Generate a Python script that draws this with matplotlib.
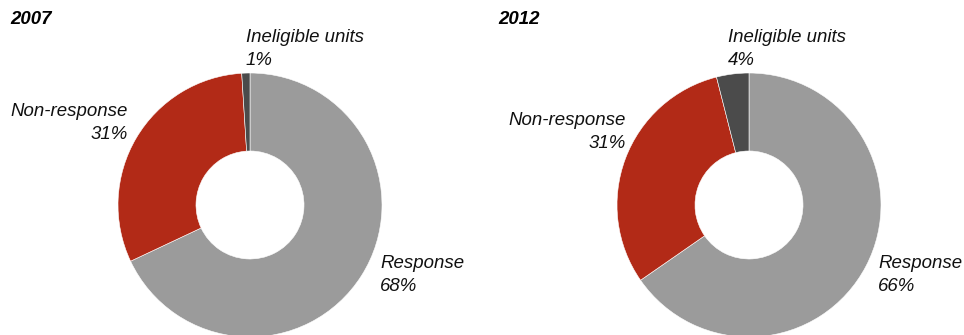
import matplotlib
matplotlib.use("Agg")
import matplotlib.pyplot as plt

plt.rcParams['font.family'] = ['Liberation Sans', 'DejaVu Sans']

# survey outcome shares, clockwise from 12 o'clock
segments = ["Response", "Non-response", "Ineligible units"]
share_2007 = [68, 31, 1]
share_2012 = [66, 31, 4]
years = ["2007", "2012"]
colors = ["#9b9b9b", "#b22a17", "#4b4b4b"]

W, H = 964, 335
fig = plt.figure(figsize=(W / 100, H / 100), dpi=100)

def px(x, y):
    # pixel position (from top-left) -> figure fraction
    return x / W, 1 - y / H

R = 132      # outer radius in px
HOLE = 54    # inner radius in px

def donut(cx, cy, values):
    ax = fig.add_axes([(cx - R) / W, (H - cy - R) / H, 2 * R / W, 2 * R / H])
    ax.pie(values, colors=colors, startangle=90, counterclock=False,
           radius=1, wedgeprops=dict(width=1 - HOLE / R, edgecolor="white", linewidth=0.4))
    ax.set_xlim(-1, 1)
    ax.set_ylim(-1, 1)
    ax.set_aspect("equal")
    ax.axis("off")

def lbl(x, y, s, ha="left", **kw):
    fig.text(*px(x, y), s, ha=ha, va="center", multialignment=ha,
             fontsize=13.4, style="italic", linespacing=1.5, color="#111111", **kw)

# 2007
donut(250, 205, share_2007)
fig.text(*px(10, 20), years[0], fontsize=13.4, style="italic", weight="bold", va="center")
lbl(246, 49, f"{segments[2]}\n{share_2007[2]}%")
lbl(128, 123, f"{segments[1]}\n{share_2007[1]}%", ha="right")
lbl(380, 275, f"{segments[0]}\n{share_2007[0]}%")

# 2012
donut(749, 205, share_2012)
fig.text(*px(498, 20), years[1], fontsize=13.4, style="italic", weight="bold", va="center")
lbl(728, 49, f"{segments[2]}\n{share_2012[2]}%")
lbl(626, 132, f"{segments[1]}\n{share_2012[1]}%", ha="right")
lbl(878, 275, f"{segments[0]}\n{share_2012[0]}%")

fig.savefig("out.png", dpi=100)
